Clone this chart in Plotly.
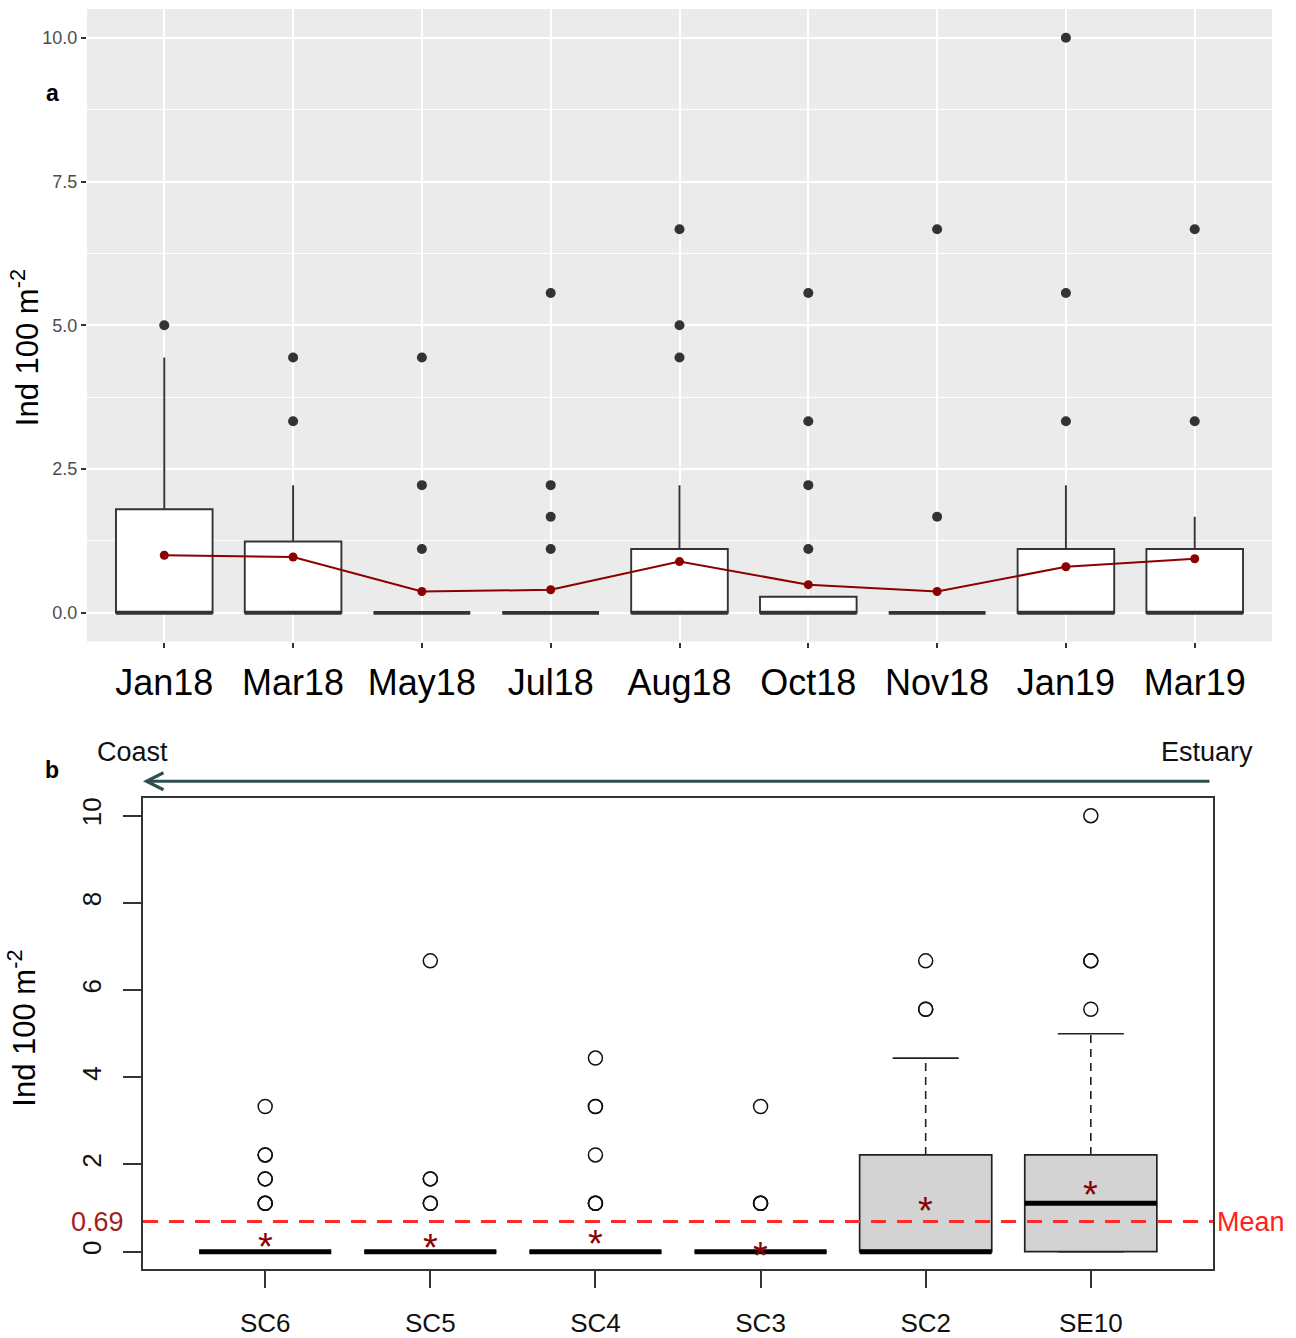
import plotly.graph_objects as go

# ---------------- Panel a data ----------------
months = ["Jan18", "Mar18", "May18", "Jul18", "Aug18", "Oct18", "Nov18", "Jan19", "Mar19"]
a_q1 = [0, 0, 0, 0, 0, 0, 0, 0, 0]
a_median = [0, 0, 0, 0, 0, 0, 0, 0, 0]
a_q3 = [1.8, 1.24, 0, 0, 1.11, 0.28, 0, 1.11, 1.11]
a_lower = [0, 0, 0, 0, 0, 0, 0, 0, 0]
a_upper = [4.44, 2.22, 0, 0, 2.22, 0.28, 0, 2.22, 1.67]
a_outliers = [
    [5.0],
    [3.33, 4.44],
    [1.11, 2.22, 4.44],
    [1.11, 1.67, 2.22, 5.56],
    [4.44, 5.0, 6.67],
    [1.11, 2.22, 3.33, 5.56],
    [1.67, 6.67],
    [3.33, 5.56, 10.0],
    [3.33, 6.67],
]
a_means = [1.0, 0.97, 0.37, 0.40, 0.89, 0.49, 0.37, 0.80, 0.94]
a_yticks = [0, 2.5, 5.0, 7.5, 10.0]
a_yticklabels = ["0.0", "2.5", "5.0", "7.5", "10.0"]

# ---------------- Panel b data ----------------
sites = ["SC6", "SC5", "SC4", "SC3", "SC2", "SE10"]
b_q1 = [0, 0, 0, 0, 0, 0]
b_median = [0, 0, 0, 0, 0, 1.11]
b_q3 = [0, 0, 0, 0, 2.22, 2.22]
b_lower = [0, 0, 0, 0, 0, 0]
b_upper = [0, 0, 0, 0, 4.44, 5.0]
b_outliers = [
    [1.11, 1.11, 1.11, 1.67, 1.67, 2.22, 2.22, 3.33],
    [1.11, 1.11, 1.67, 1.67, 6.67],
    [1.11, 1.11, 1.11, 2.22, 3.33, 3.33, 4.44],
    [1.11, 1.11, 1.11, 3.33],
    [5.56, 5.56, 6.67],
    [5.56, 6.67, 6.67, 10.0],
]
b_means = [0.32, 0.28, 0.39, 0.11, 1.15, 1.51]
overall_mean = 0.69
b_yticks = [0, 2, 4, 6, 8, 10]

FONT = "Liberation Sans, Arial, sans-serif"
W_PX, H_PX = 1296, 1338

fig = go.Figure()

# ---------- Panel a ----------
ax_pos = list(range(len(months)))
A_W = 0.75
fig.add_trace(go.Box(
    x=ax_pos, q1=a_q1, median=a_median, q3=a_q3,
    lowerfence=a_lower, upperfence=a_upper,
    width=A_W, whiskerwidth=0, fillcolor="white",
    line=dict(color="#333333", width=1.9),
    boxpoints=False, xaxis="x", yaxis="y", showlegend=False, hoverinfo="skip"))

mx, my = [], []
for i, m in enumerate(a_median):
    mx += [i - A_W / 2, i + A_W / 2, None]
    my += [m, m, None]
fig.add_trace(go.Scatter(x=mx, y=my, mode="lines", line=dict(color="#333333", width=3.8),
                         xaxis="x", yaxis="y", showlegend=False, hoverinfo="skip"))

ox, oy = [], []
for i, vals in enumerate(a_outliers):
    for v in vals:
        ox.append(i)
        oy.append(v)
fig.add_trace(go.Scatter(x=ox, y=oy, mode="markers",
                         marker=dict(color="#333333", size=10, line=dict(width=0)),
                         xaxis="x", yaxis="y", showlegend=False, hoverinfo="skip"))

fig.add_trace(go.Scatter(x=ax_pos, y=a_means, mode="lines+markers",
                         line=dict(color="#8B0000", width=2),
                         marker=dict(color="#8B0000", size=9),
                         xaxis="x", yaxis="y", showlegend=False, hoverinfo="skip"))

# ---------- Panel b ----------
bx_pos = list(range(1, len(sites) + 1))
B_W = 0.8
fig.add_trace(go.Box(
    x=bx_pos, q1=b_q1, median=b_median, q3=b_q3,
    lowerfence=b_q1, upperfence=b_q3,
    width=B_W, whiskerwidth=0, fillcolor="#D3D3D3",
    line=dict(color="#222222", width=1.7),
    boxpoints=False, xaxis="x2", yaxis="y2", showlegend=False, hoverinfo="skip"))

wx, wy, sx, sy = [], [], [], []
for i, p in enumerate(bx_pos):
    wx += [p, p, None, p, p, None]
    wy += [b_q3[i], b_upper[i], None, b_q1[i], b_lower[i], None]
    sx += [p - B_W / 4, p + B_W / 4, None, p - B_W / 4, p + B_W / 4, None]
    sy += [b_upper[i], b_upper[i], None, b_lower[i], b_lower[i], None]
fig.add_trace(go.Scatter(x=wx, y=wy, mode="lines", line=dict(color="#222222", width=1.6, dash="8px,6px"),
                         xaxis="x2", yaxis="y2", showlegend=False, hoverinfo="skip"))
fig.add_trace(go.Scatter(x=sx, y=sy, mode="lines", line=dict(color="#222222", width=1.6),
                         xaxis="x2", yaxis="y2", showlegend=False, hoverinfo="skip"))

mx, my = [], []
for i, p in enumerate(bx_pos):
    mx += [p - B_W / 2, p + B_W / 2, None]
    my += [b_median[i], b_median[i], None]
fig.add_trace(go.Scatter(x=mx, y=my, mode="lines", line=dict(color="black", width=5),
                         xaxis="x2", yaxis="y2", showlegend=False, hoverinfo="skip"))

ox, oy = [], []
for i, vals in enumerate(b_outliers):
    for v in vals:
        ox.append(bx_pos[i])
        oy.append(v)
fig.add_trace(go.Scatter(x=ox, y=oy, mode="markers",
                         marker=dict(symbol="circle-open", color="#111111", size=14, line=dict(width=1.5)),
                         xaxis="x2", yaxis="y2", showlegend=False, hoverinfo="skip"))

annotations = []
for i, p in enumerate(bx_pos):
    annotations.append(dict(x=p, y=b_means[i], xref="x2", yref="y2", text="*", showarrow=False,
                            font=dict(family=FONT, size=38, color="#8B0000"),
                            xanchor="center", yanchor="middle", yshift=-9))

# mean line and labels
shapes = [
    dict(type="rect", xref="x domain", yref="y domain", x0=0, x1=1, y0=0, y1=1,
         fillcolor="#EBEBEB", line=dict(width=0), layer="below"),
    dict(type="line", xref="x2 domain", yref="y2", x0=0, x1=1, y0=overall_mean, y1=overall_mean,
         line=dict(color="#FF2A2A", width=3, dash="15px,11px"), layer="above"),
]
annotations.append(dict(x=126 / W_PX, y=overall_mean, xref="paper", yref="y2",
                        text=f"{overall_mean:.2f}", showarrow=False, xanchor="right", yanchor="middle",
                        font=dict(family=FONT, size=27, color="#A31F1F")))
annotations.append(dict(x=1215 / W_PX, y=overall_mean, xref="paper", yref="y2",
                        text="Mean", showarrow=False, xanchor="left", yanchor="middle",
                        font=dict(family=FONT, size=27, color="#FF2020")))

# axis titles
annotations.append(dict(x=25 / W_PX, y=1 - 348 / H_PX, xref="paper", yref="paper",
                        text="Ind 100 m<sup>-2</sup>", showarrow=False, textangle=-90,
                        xanchor="center", yanchor="middle", font=dict(family=FONT, size=31, color="black")))
annotations.append(dict(x=22 / W_PX, y=1 - 1030 / H_PX, xref="paper", yref="paper",
                        text="Ind 100 m<sup>-2</sup>", showarrow=False, textangle=-90,
                        xanchor="center", yanchor="middle", font=dict(family=FONT, size=31, color="black")))
# panel letters
annotations.append(dict(x=52 / W_PX, y=1 - 92 / H_PX, xref="paper", yref="paper", text="<b>a</b>",
                        showarrow=False, xanchor="center", yanchor="middle",
                        font=dict(family=FONT, size=23, color="black")))
annotations.append(dict(x=52 / W_PX, y=1 - 771 / H_PX, xref="paper", yref="paper", text="<b>b</b>",
                        showarrow=False, xanchor="center", yanchor="middle",
                        font=dict(family=FONT, size=23, color="black")))
# Coast / Estuary and arrow
annotations.append(dict(x=132 / W_PX, y=1 - 753 / H_PX, xref="paper", yref="paper", text="Coast",
                        showarrow=False, xanchor="center", yanchor="middle",
                        font=dict(family=FONT, size=27, color="#111111")))
annotations.append(dict(x=1207 / W_PX, y=1 - 753 / H_PX, xref="paper", yref="paper", text="Estuary",
                        showarrow=False, xanchor="center", yanchor="middle",
                        font=dict(family=FONT, size=27, color="#111111")))
annotations.append(dict(x=143 / W_PX, y=1 - 782 / H_PX, xref="paper", yref="paper", text="",
                        showarrow=True, ax=1211 - 143, ay=0, arrowhead=5, arrowsize=1.1,
                        arrowwidth=3, arrowcolor="#2F4F4F", standoff=0, startstandoff=0))

fig.update_layout(
    width=W_PX, height=H_PX, autosize=False,
    margin=dict(l=0, r=0, t=0, b=0),
    paper_bgcolor="white", plot_bgcolor="rgba(0,0,0,0)",
    font=dict(family=FONT),
    shapes=shapes, annotations=annotations,
    xaxis=dict(domain=[87 / W_PX, 1272 / W_PX], anchor="y", range=[-0.6, 8.6],
               tickmode="array", tickvals=ax_pos, ticktext=months,
               ticks="outside", ticklen=5, tickwidth=1.5, tickcolor="#333333",
               tickfont=dict(family=FONT, size=36, color="black"), ticklabelstandoff=4,
               showgrid=True, gridcolor="white", gridwidth=2, zeroline=False, showline=False),
    yaxis=dict(domain=[1 - 642 / H_PX, 1 - 8 / H_PX], anchor="x", range=[-0.5, 10.5],
               tickmode="array", tickvals=a_yticks, ticktext=a_yticklabels,
               ticks="outside", ticklen=5, tickwidth=1.5, tickcolor="#333333",
               tickfont=dict(family=FONT, size=18, color="#4D4D4D"),
               showgrid=True, gridcolor="white", gridwidth=2, zeroline=False, showline=False,
               minor=dict(tick0=1.25, dtick=2.5, showgrid=True, gridcolor="white", gridwidth=1, ticks="")),
    xaxis2=dict(domain=[143 / W_PX, 1213 / W_PX], anchor="y2", range=[0.26, 6.74],
                tickmode="array", tickvals=bx_pos, ticktext=sites,
                ticks="outside", ticklen=17, tickwidth=1.5, tickcolor="#333333",
                tickfont=dict(family=FONT, size=26, color="#111111"), ticklabelstandoff=13,
                showgrid=False, zeroline=False, showline=True, linecolor="#333333", linewidth=1.5, mirror=True),
    yaxis2=dict(domain=[1 - 1271 / H_PX, 1 - 799 / H_PX], anchor="x2", range=[-0.4, 10.4],
                tickmode="array", tickvals=b_yticks, ticktext=[str(v) for v in b_yticks],
                ticks="outside", ticklen=18, tickwidth=1.5, tickcolor="#333333", tickangle=-90,
                tickfont=dict(family=FONT, size=26, color="#111111"), ticklabelstandoff=12,
                showgrid=False, zeroline=False, showline=True, linecolor="#333333", linewidth=1.5, mirror=True),
)

fig.write_html("out.html", config={"displayModeBar": False},
               post_script="document.body.style.margin='0px';")
